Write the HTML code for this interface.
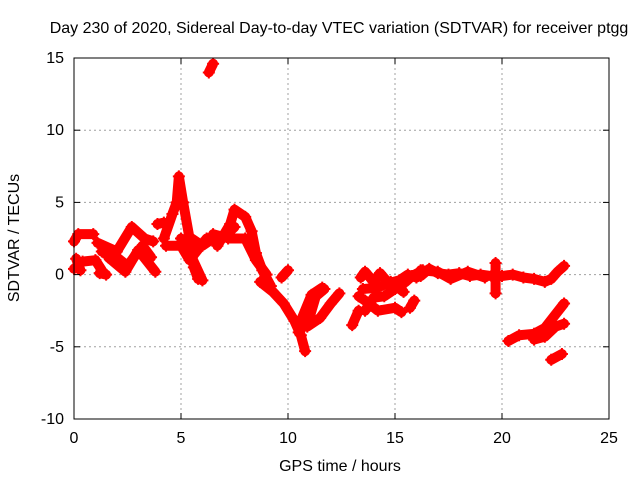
<!DOCTYPE html>
<html><head><meta charset="utf-8"><style>
body{margin:0;background:#fff}
svg text{font-family:"Liberation Sans",sans-serif;font-size:16px;fill:#000}
</style></head><body>
<svg width="640" height="480" id="chart">
<text x="339" y="33" text-anchor="middle">Day 230 of 2020, Sidereal Day-to-day VTEC variation (SDTVAR) for receiver ptgg</text>
<text x="340" y="471" text-anchor="middle">GPS time / hours</text>
<text transform="translate(19,238) rotate(-90)" text-anchor="middle">SDTVAR / TECUs</text>
<g id="grid"></g><g id="marks"></g><g id="axes"></g>
</svg>
<script>
const xTicks=[0,5,10,15,20,25];
const yTicks=[-10,-5,0,5,10,15];
const tracks=[
[[0,2.3],[0.2,2.8],[0.9,2.8]],
[[0,0.4],[0.4,0.9],[1,1],[1.3,0.3]],
[[0.1,1.1],[0.3,0.3]],
[[1.1,2.2],[2,1.6],[2.7,3.3],[3.3,2.5],[3.7,2.3]],
[[1.3,1.6],[2,1.2],[2.5,0.6],[3.2,2.0],[3.6,1.2]],
[[1.6,1.2],[2.4,0.2],[3.0,1.7],[3.8,0.2]],
[[1.2,0.1],[1.5,0]],
[[3.9,3.5],[4.2,3.6]],
[[4.2,2.5],[4.6,4.2],[4.8,5],[4.9,6.8],[5.1,5],[5.4,2.5],[5.6,0.5],[5.8,-0.3]],
[[4.3,2],[5,2],[5.4,1],[6.2,2.5],[6.6,2.5]],
[[5.0,2.5],[5.5,1.2],[6,-0.4]],
[[5.5,2.5],[6.0,2.0],[6.5,2.5]],
[[6.3,14],[6.5,14.6]],
[[6.5,2.8],[7.0,2.6],[7.5,3.3]],
[[6.7,2],[7.3,3.5],[7.5,4.5],[8,4],[8.3,3],[8.5,1.5],[8.8,0.3],[9.2,-0.8]],
[[7.2,2.5],[8,2.5],[8.5,1],[9,0]],
[[8.7,-0.5],[9.3,-1.2],[9.8,-2],[10.3,-3.2],[10.6,-4.2],[10.8,-5.3]],
[[9.7,-0.2],[10,0.3]],
[[10.5,-4],[11,-3],[11.3,-1.5],[11.7,-1]],
[[10.6,-3.2],[11.1,-1.4],[11.6,-0.9]],
[[10.9,-3.6],[11.5,-3],[12,-2],[12.4,-1.3]],
[[13,-3.5],[13.3,-2.5]],
[[13.6,-2.5],[14,-1.6],[14.5,-1.5],[15,-1],[15.5,-0.5],[15.8,-0.1],[16.3,0.3]],
[[13.5,-1],[14.2,-0.9],[14.8,-0.5],[15.4,-1.2]],
[[13.4,-0.2],[13.6,0.2],[14,-0.5],[14.3,0.1],[14.7,-0.6],[15.2,-0.4],[15.6,0],[16,-0.2]],
[[13.3,-1.5],[13.6,-1.8],[14.2,-2.5],[15,-2.3],[15.3,-2.6]],
[[15.7,-2.3],[15.9,-1.8]],
[[16.2,-0.1],[16.6,0.4],[17,0.1],[17.5,0],[18,0.1],[18.5,-0.1],[19,0],[19.5,-0.1],[20,-0.1],[20.5,0],[21,-0.2],[21.5,-0.3],[22,-0.5],[22.3,-0.3],[22.6,0.2],[22.9,0.6]],
[[16.2,0.3],[17,0.2],[17.6,-0.3],[18.4,0.2],[19.2,-0.2]],
[[19.7,0.8],[19.7,-1.3]],
[[20.3,-4.6],[20.8,-4.2],[21.5,-4.1],[22,-3.7],[22.9,-2]],
[[21.5,-4.5],[22,-4.3],[22.5,-3.6],[22.9,-3.4]],
[[22.3,-5.9],[22.8,-5.5]]
];
const L=74,R=609,T=58,B=419;
function xs(t){return L+(t-0)/25*(R-L);}
function ys(v){return B-(v+10)/25*(B-T);}
const NS='http://www.w3.org/2000/svg';
function mk(tag,attrs,parent){const e=document.createElementNS(NS,tag);for(const k in attrs)e.setAttribute(k,attrs[k]);parent.appendChild(e);return e;}
const grid=document.getElementById('grid'),axes=document.getElementById('axes'),marks=document.getElementById('marks');
xTicks.forEach(t=>{const x=xs(t);
 if(t>0&&t<25){const g=mk('line',{x1:x,x2:x,y1:T,y2:B,stroke:'#a0a0a0','stroke-dasharray':'2,3'},grid);
 
 }
 mk('line',{x1:x,x2:x,y1:B,y2:B-6,stroke:'#000'},axes);mk('line',{x1:x,x2:x,y1:T,y2:T+6,stroke:'#000'},axes);
 const tx=mk('text',{x:x,y:B+24,'text-anchor':'middle'},axes);tx.textContent=t;
 
 
});
yTicks.forEach(v=>{const y=ys(v);
 if(v>-10&&v<15){const g=mk('line',{x1:L,x2:R,y1:y,y2:y,stroke:'#a0a0a0','stroke-dasharray':'2,3'},grid);
 
 }
 mk('line',{x1:L,x2:L+6,y1:y,y2:y,stroke:'#000'},axes);mk('line',{x1:R,x2:R-6,y1:y,y2:y,stroke:'#000'},axes);
 const tx=mk('text',{x:L-10,y:y+5,'text-anchor':'end'},axes);tx.textContent=v;
 
 
});
const fr=mk('rect',{x:L,y:T,width:R-L,height:B-T,fill:'none',stroke:'#000'},axes);


tracks.forEach(tr=>{
 const pl=mk('polyline',{points:tr.map(p=>xs(p[0])+','+ys(p[1])).join(' '),fill:'none',stroke:'#f00','stroke-width':10,'stroke-linejoin':'round','stroke-linecap':'round'},marks);
 
 
 tr.forEach(p=>{const x=xs(p[0]),y=ys(p[1]);
  const m=mk('path',{d:`M${x-6},${y}H${x+6}M${x},${y-6}V${y+6}`,stroke:'#f00','stroke-width':2},marks);
  
  
 });
});
</script>
</body></html>
